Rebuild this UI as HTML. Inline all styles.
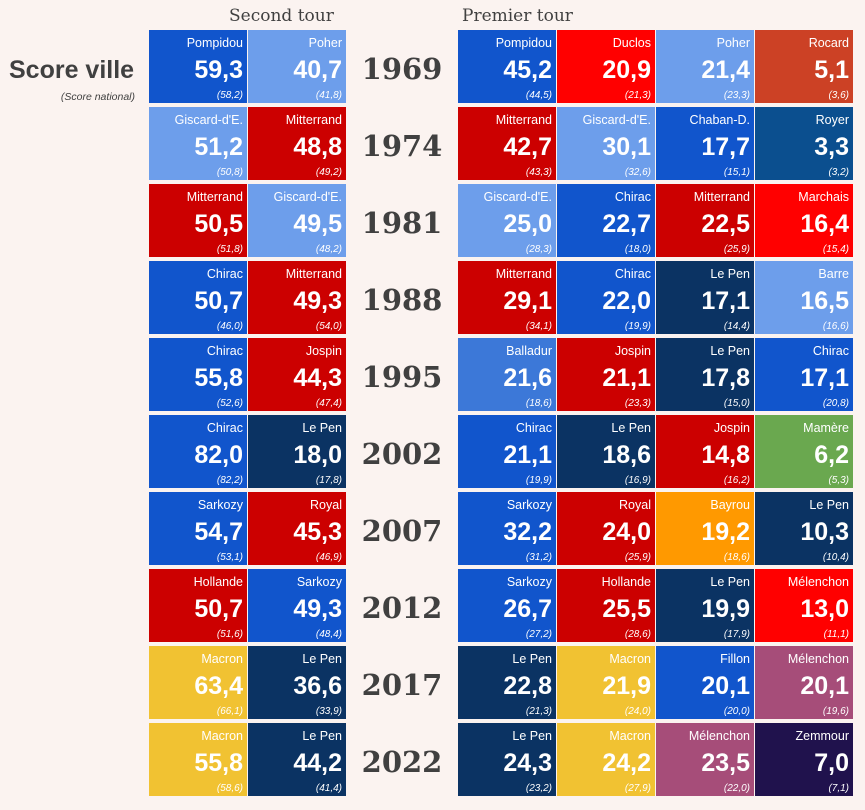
<!DOCTYPE html>
<html><head><meta charset="utf-8"><style>
body{margin:0;background:#fbf3f0;width:865px;height:810px;position:relative;overflow:hidden;font-family:"Liberation Sans",sans-serif}
.c{position:absolute;width:98px;height:73px;color:#fff;box-sizing:border-box}
.n{position:absolute;right:4px;top:6px;font-size:12.5px}
.v{position:absolute;right:4px;top:26px;font-size:25px;font-weight:bold}
.s{position:absolute;right:4px;bottom:2px;font-size:10px;font-style:italic}
.y{position:absolute;left:347px;width:110px;text-align:center;font-family:"DejaVu Serif",serif;font-weight:bold;font-size:29px;color:#404040}
.h{position:absolute;top:6px;font-family:"DejaVu Serif",serif;font-size:17px;color:#404040}
</style></head><body>
<div class="h" style="left:229px">Second tour</div>
<div class="h" style="left:462px">Premier tour</div>
<div style="position:absolute;left:9px;top:56px;font-size:25px;font-weight:bold;color:#404040">Score ville</div>
<div style="position:absolute;right:730px;top:91px;font-size:10.5px;font-style:italic;color:#404040">(Score national)</div>
<script>
const years=["1969","1974","1981","1988","1995","2002","2007","2012","2017","2022"];
const second=[
[["Pompidou","59,3","58,2","#1155cc"],["Poher","40,7","41,8","#6d9eeb"]],
[["Giscard-d'E.","51,2","50,8","#6d9eeb"],["Mitterrand","48,8","49,2","#cc0000"]],
[["Mitterrand","50,5","51,8","#cc0000"],["Giscard-d'E.","49,5","48,2","#6d9eeb"]],
[["Chirac","50,7","46,0","#1155cc"],["Mitterrand","49,3","54,0","#cc0000"]],
[["Chirac","55,8","52,6","#1155cc"],["Jospin","44,3","47,4","#cc0000"]],
[["Chirac","82,0","82,2","#1155cc"],["Le Pen","18,0","17,8","#0b3363"]],
[["Sarkozy","54,7","53,1","#1155cc"],["Royal","45,3","46,9","#cc0000"]],
[["Hollande","50,7","51,6","#cc0000"],["Sarkozy","49,3","48,4","#1155cc"]],
[["Macron","63,4","66,1","#f1c232"],["Le Pen","36,6","33,9","#0b3363"]],
[["Macron","55,8","58,6","#f1c232"],["Le Pen","44,2","41,4","#0b3363"]]];
const first=[
[["Pompidou","45,2","44,5","#1155cc"],["Duclos","20,9","21,3","#ff0000"],["Poher","21,4","23,3","#6d9eeb"],["Rocard","5,1","3,6","#cc4125"]],
[["Mitterrand","42,7","43,3","#cc0000"],["Giscard-d'E.","30,1","32,6","#6d9eeb"],["Chaban-D.","17,7","15,1","#1155cc"],["Royer","3,3","3,2","#0b4f8f"]],
[["Giscard-d'E.","25,0","28,3","#6d9eeb"],["Chirac","22,7","18,0","#1155cc"],["Mitterrand","22,5","25,9","#cc0000"],["Marchais","16,4","15,4","#ff0000"]],
[["Mitterrand","29,1","34,1","#cc0000"],["Chirac","22,0","19,9","#1155cc"],["Le Pen","17,1","14,4","#0b3363"],["Barre","16,5","16,6","#6d9eeb"]],
[["Balladur","21,6","18,6","#3c78d8"],["Jospin","21,1","23,3","#cc0000"],["Le Pen","17,8","15,0","#0b3363"],["Chirac","17,1","20,8","#1155cc"]],
[["Chirac","21,1","19,9","#1155cc"],["Le Pen","18,6","16,9","#0b3363"],["Jospin","14,8","16,2","#cc0000"],["Mamère","6,2","5,3","#6aa84f"]],
[["Sarkozy","32,2","31,2","#1155cc"],["Royal","24,0","25,9","#cc0000"],["Bayrou","19,2","18,6","#ff9900"],["Le Pen","10,3","10,4","#0b3363"]],
[["Sarkozy","26,7","27,2","#1155cc"],["Hollande","25,5","28,6","#cc0000"],["Le Pen","19,9","17,9","#0b3363"],["Mélenchon","13,0","11,1","#ff0000"]],
[["Le Pen","22,8","21,3","#0b3363"],["Macron","21,9","24,0","#f1c232"],["Fillon","20,1","20,0","#1155cc"],["Mélenchon","20,1","19,6","#a64d79"]],
[["Le Pen","24,3","23,2","#0b3363"],["Macron","24,2","27,9","#f1c232"],["Mélenchon","23,5","22,0","#a64d79"],["Zemmour","7,0","7,1","#20124d"]]];
function cell(d,x,y){
  const e=document.createElement('div');
  
  
  e.className='c';e.style.left=x+'px';e.style.top=y+'px';e.style.background=d[3];
  e.innerHTML='<div class="n">'+d[0]+'</div><div class="v">'+d[1]+'</div><div class="s">('+d[2]+')</div>';
  document.body.appendChild(e);
}
years.forEach((yr,i)=>{
  const y=30+i*77;
  const t=document.createElement('div');
  
  
  t.className='y';t.style.top=(y+22)+'px';t.textContent=yr;document.body.appendChild(t);
  second[i].forEach((d,j)=>cell(d,149+j*99,y));
  first[i].forEach((d,j)=>cell(d,458+j*99,y));
});
</script>
</body></html>
